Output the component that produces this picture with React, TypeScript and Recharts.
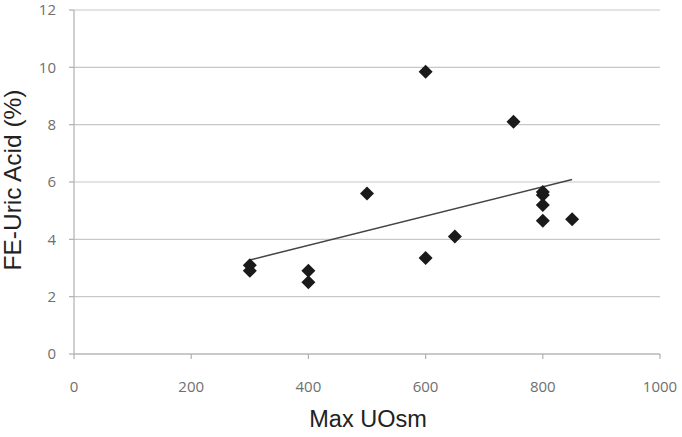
import React from 'react';
import { ScatterChart, Scatter, XAxis, YAxis, CartesianGrid } from 'recharts';

const maxUOsm = [300, 300, 400, 400, 500, 600, 600, 650, 750, 800, 800, 800, 800, 850];
const feUricAcid = [3.1, 2.9, 2.9, 2.5, 5.6, 9.85, 3.35, 4.1, 8.1, 5.65, 5.55, 5.2, 4.65, 4.7];
const trendX = [300, 850];
const trendY = [3.28, 6.09];
const xTicks = [0, 200, 400, 600, 800, 1000];
const yTicks = [0, 2, 4, 6, 8, 10, 12];

const points = maxUOsm.map((x, i) => ({ x, y: feUricAcid[i] }));
const trend = trendX.map((x, i) => ({ x, y: trendY[i] }));

const Diamond = (props: any) => {
  const { cx, cy } = props;
  if (cx == null || cy == null) return null;
  const r = 7;
  return (
    <polygon
      points={`${cx},${cy - r} ${cx + r},${cy} ${cx},${cy + r} ${cx - r},${cy}`}
      fill="#1a1a1a"
    />
  );
};

const tickStyle = { fill: '#6f6f6f', fontSize: 15, fontFamily: '"Open Sans", sans-serif' };

export default function App() {
  return (
    <div style={{ position: 'absolute', left: 0, top: 0, background: '#fff' }}>
      <ScatterChart
        width={682}
        height={437}
        margin={{ top: 10, right: 22, bottom: 0, left: 0 }}
      >
        <CartesianGrid horizontal={true} vertical={false} stroke="#c8c8c8" strokeWidth={1.2} />
        <XAxis
          type="number"
          dataKey="x"
          domain={[0, 1000]}
          ticks={xTicks}
          height={83}
          axisLine={{ stroke: '#b0b0b0', strokeWidth: 1.2 }}
          tickLine={{ stroke: '#b0b0b0', strokeWidth: 1.2 }}
          tickSize={5}
          tickMargin={22}
          tick={tickStyle}
          label={(p: any) => {
            const vb = p.viewBox;
            return (
              <text
                x={vb.x + vb.width / 2 + 1}
                y={427}
                textAnchor="middle"
                fill="#222"
                fontSize={23.5}
                fontFamily='"Liberation Sans", Arial, sans-serif'
              >
                Max UOsm
              </text>
            );
          }}
        />
        <YAxis
          type="number"
          dataKey="y"
          domain={[0, 12]}
          ticks={yTicks}
          width={74}
          axisLine={{ stroke: '#b0b0b0', strokeWidth: 1.2 }}
          tickLine={{ stroke: '#b0b0b0', strokeWidth: 1.2 }}
          tickSize={5}
          tickMargin={13}
          tick={tickStyle}
          label={(p: any) => {
            const vb = p.viewBox;
            const cy = vb.y + vb.height / 2 - 2;
            return (
              <text
                x={21}
                y={cy}
                transform={`rotate(-90, 21, ${cy})`}
                textAnchor="middle"
                fill="#222"
                fontSize={24.5}
                fontFamily='"Liberation Sans", Arial, sans-serif'
              >
                FE-Uric Acid (%)
              </text>
            );
          }}
        />
        <Scatter
          data={trend}
          line={{ stroke: '#444', strokeWidth: 1.5 }}
          shape={() => null}
          isAnimationActive={false}
        />
        <Scatter data={points} shape={Diamond} isAnimationActive={false} />
      </ScatterChart>
    </div>
  );
}
